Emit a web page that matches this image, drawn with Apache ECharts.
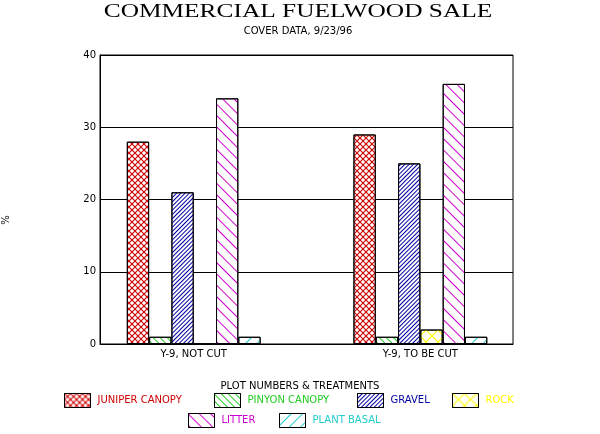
<!DOCTYPE html>
<html>
<head>
<meta charset="utf-8">
<script src="https://cdn.jsdelivr.net/npm/echarts@6/dist/echarts.min.js"></script>
<style>
html,body{margin:0;padding:0;background:#fff;}
#chart{width:600px;height:434px;}
</style>
</head>
<body>
<div id="chart"></div>
<script>
// ---- data ----
const categories = ['Y-9, NOT CUT', 'Y-9, TO BE CUT'];
const seriesNames = ['JUNIPER CANOPY', 'PINYON CANOPY', 'GRAVEL', 'ROCK', 'LITTER', 'PLANT BASAL'];
const juniperCanopy = [28, 29];
const pinyonCanopy = [1, 1];
const gravel = [21, 25];
const rock = [0, 2];
const litter = [34, 36];
const plantBasal = [1, 1];
const yTicks = [0, 10, 20, 30, 40];

// ---- styles ----
const colors = ['#cc0000', '#22cc22', '#0000a0', '#ffff00', '#cc00cc', '#22cccc'];
// kind: 'x' crosshatch, '\\' or '/' single hatch; period = horizontal repeat in px
const patternSpec = [
  {kind: 'x', period: 6, width: 0.8, dots: true},
  {kind: '\\', period: 6, width: 1},
  {kind: '/', period: 4, width: 1},
  {kind: 'x', period: 12, width: 0.8},
  {kind: '\\', period: 11, width: 1},
  {kind: '/', period: 11, width: 1}
];
const legendPos = [[64, 393], [214, 393], [357, 393], [452, 393], [188, 413], [279, 413]];

function crossPath(p, t, dots) {
  // cell of p x p px (path units = px), two diagonal bands of horizontal thickness t
  const s = p;
  let d = `M0,0 L${t},0 L${s},${s - t} L${s},${s} L${s - t},${s} L0,${t} Z ` +
          `M${s - t},0 L${s},0 L${s},${t} L${t},${s} L0,${s} L0,${s - t} Z`;
  if (dots) {
    const h = s / 2, r = 0.75;
    d += ` M${h - r},${h - r} L${h + r},${h - r} L${h + r},${h + r} L${h - r},${h + r} Z`;
  }
  return 'path://' + d;
}

function makeDecal(color, spec) {
  if (spec.kind === 'x') {
    return {symbol: crossPath(spec.period, spec.width, spec.dots), symbolSize: 1, color: color,
            symbolKeepAspect: false,
            dashArrayX: [spec.period, 0], dashArrayY: [spec.period, 0], rotation: 0};
  }
  const p = spec.period / Math.SQRT2;   // perpendicular spacing of 45-degree lines
  const w = spec.width;
  return {symbol: 'rect', symbolSize: 1, color: color, symbolKeepAspect: false,
          dashArrayX: [1, 0], dashArrayY: [w, p - w],
          rotation: spec.kind === '\\' ? Math.PI / 4 : -Math.PI / 4};
}

const values = [juniperCanopy, pinyonCanopy, gravel, rock, litter, plantBasal];
const FONT = 'DejaVu Sans';

const series = seriesNames.map((name, i) => ({
  name: name,
  type: 'bar',
  xAxisIndex: 1,
  yAxisIndex: 1,
  data: values[i],
  barWidth: 22.3,
  barGap: '0%',
  itemStyle: {
    color: '#ffffff',
    borderColor: '#000',
    borderWidth: 1,
    decal: makeDecal(colors[i], patternSpec[i])
  },
  emphasis: {disabled: true},
  animation: false
}));

const legends = seriesNames.map((name, i) => ({
  orient: 'horizontal',
  left: legendPos[i][0],
  top: legendPos[i][1],
  padding: 0,
  itemWidth: 26,
  itemHeight: 14,
  icon: 'rect',
  selectedMode: false,
  textStyle: {fontFamily: FONT, fontSize: 10, padding: [0, 0, 0, 2], color: colors[i]},
  itemStyle: {borderColor: '#000', borderWidth: 1},
  data: [{name: name, textStyle: {color: colors[i]}}]
}));

const option = {
  backgroundColor: '#fff',
  animation: false,
  title: [
    {text: 'COVER DATA, 9/23/96', left: 298, top: 26, padding: 0, textAlign: 'center',
     textStyle: {fontFamily: FONT, fontSize: 10, fontWeight: 'normal', color: '#000'}},
    {text: 'PLOT NUMBERS & TREATMENTS', left: 300, top: 381, padding: 0, textAlign: 'center',
     textStyle: {fontFamily: FONT, fontSize: 10, fontWeight: 'normal', color: '#000'}}
  ],
  graphic: [
    {type: 'text', x: 298, y: 12, scaleX: 1.335,
     style: {text: 'COMMERCIAL FUELWOOD SALE', font: '19px "Liberation Serif"', fill: '#000',
             textAlign: 'center', textVerticalAlign: 'middle'}},
    {type: 'text', x: 6, y: 220, rotation: Math.PI / 2,
     style: {text: '%', font: '10px "DejaVu Sans"', fill: '#000',
             textAlign: 'center', textVerticalAlign: 'middle'}}
  ],
  legend: legends,
  grid: [
    {left: 100, right: 87, top: 55, bottom: 90, show: true, borderColor: '#000', borderWidth: 1,
     backgroundColor: 'transparent', containLabel: false},
    {left: 80.4, right: 66.3, top: 55, bottom: 90, containLabel: false}
  ],
  xAxis: [
    {gridIndex: 0, type: 'category', data: categories,
     axisLine: {show: true, lineStyle: {color: '#000', width: 1}},
     axisTick: {show: false}, axisLabel: {show: false}, splitLine: {show: false}},
    {gridIndex: 1, type: 'category', data: categories,
     axisLine: {show: false}, axisTick: {show: false}, splitLine: {show: false},
     axisLabel: {color: '#000', fontFamily: FONT, fontSize: 10, margin: 5}}
  ],
  yAxis: [
    {gridIndex: 0, type: 'value', min: yTicks[0], max: yTicks[yTicks.length - 1], interval: 10,
     axisLine: {show: true, lineStyle: {color: '#000', width: 1}},
     axisTick: {show: false},
     splitLine: {show: true, lineStyle: {color: '#000', width: 1, type: 'solid'}},
     axisLabel: {color: '#000', fontFamily: FONT, fontSize: 10, margin: 4}},
    {gridIndex: 1, type: 'value', min: yTicks[0], max: yTicks[yTicks.length - 1], interval: 10, show: false,
     splitLine: {show: false}}
  ],
  series: series
};

const chart = echarts.init(document.getElementById('chart'), null, {renderer: 'canvas'});
chart.setOption(option);
</script>
</body>
</html>
